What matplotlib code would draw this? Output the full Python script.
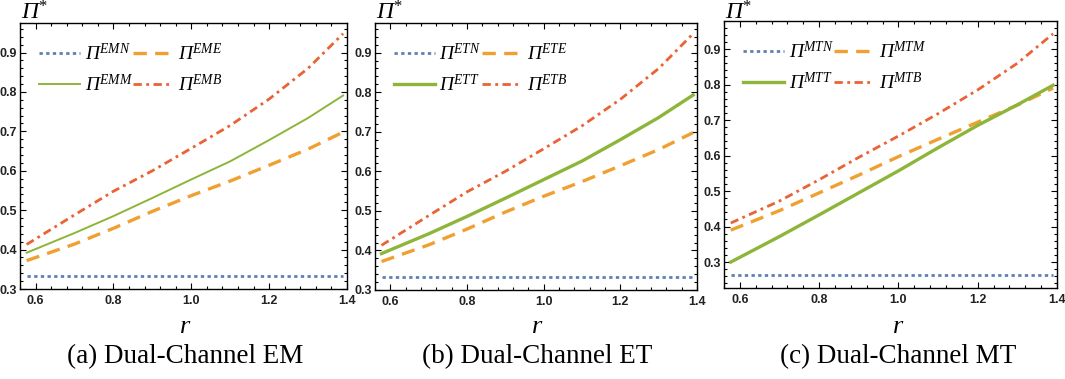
import matplotlib
matplotlib.use("Agg")
import matplotlib.pyplot as plt
from matplotlib.ticker import MultipleLocator, FormatStrFormatter

plt.rcParams['mathtext.fontset'] = 'custom'
plt.rcParams['mathtext.rm'] = 'Liberation Serif'
plt.rcParams['mathtext.it'] = 'Liberation Serif:italic'
plt.rcParams['mathtext.bf'] = 'Liberation Serif:bold'

# ---- data ----
r = [0.577, 0.7, 0.8, 0.9, 1.0, 1.1, 1.2, 1.3, 1.39]

em_n = [0.333] * 9
em_e = [0.372, 0.414, 0.454, 0.497, 0.537, 0.574, 0.614, 0.655, 0.698]
em_m = [0.392, 0.442, 0.485, 0.531, 0.578, 0.624, 0.678, 0.734, 0.791]
em_b = [0.413, 0.488, 0.548, 0.600, 0.657, 0.715, 0.782, 0.860, 0.948]

et_n = [0.333] * 9
et_e = [0.372, 0.414, 0.454, 0.497, 0.537, 0.574, 0.614, 0.655, 0.698]
et_t = [0.392, 0.442, 0.486, 0.532, 0.579, 0.626, 0.680, 0.736, 0.793]
et_b = [0.413, 0.488, 0.548, 0.600, 0.657, 0.715, 0.782, 0.860, 0.948]

mt_n = [0.263] * 9
mt_m = [0.390, 0.445, 0.495, 0.545, 0.597, 0.646, 0.694, 0.742, 0.790]
mt_t = [0.300, 0.372, 0.433, 0.495, 0.557, 0.622, 0.685, 0.743, 0.798]
mt_b = [0.410, 0.472, 0.532, 0.595, 0.655, 0.718, 0.785, 0.860, 0.943]

panels = [
    dict(series=[em_n, em_e, em_m, em_b], labels=['EMN', 'EME', 'EMM', 'EMB'],
         caption='(a) Dual-Channel EM', ylim=(0.3, 0.975), green_lw=1.4),
    dict(series=[et_n, et_e, et_t, et_b], labels=['ETN', 'ETE', 'ETT', 'ETB'],
         caption='(b) Dual-Channel ET', ylim=(0.3, 0.975), green_lw=2.4),
    dict(series=[mt_n, mt_m, mt_t, mt_b], labels=['MTN', 'MTM', 'MTT', 'MTB'],
         caption='(c) Dual-Channel MT', ylim=(0.227, 0.979), green_lw=2.4),
]

# ---- layout ----
W, H = 1065, 379
fig = plt.figure(figsize=(W / 100, H / 100), dpi=100)
boxes = [(20, 347, 23, 289), (375, 697, 23, 290), (724, 1057, 21, 288)]
caption_x = [185, 537, 898]

blue = '#5E81B5'
orange = '#F0A030'
green = '#8DB53A'
red = '#EB6235'

for p, (l, rr, t, b), cx in zip(panels, boxes, caption_x):
    ax = fig.add_axes([l / W, 1 - b / H, (rr - l) / W, (b - t) / H])
    n, e, m, bb = p['series']
    ln_n, = ax.plot(r, n, color=blue, lw=2.0, ls=(0, (1.2, 1.2)))
    ln_e, = ax.plot(r, e, color=orange, lw=2.4, ls=(0, (4.0, 2.5)))
    ln_m, = ax.plot(r, m, color=green, lw=p['green_lw'], ls='-')
    ln_b, = ax.plot(r, bb, color=red, lw=2.0, ls=(0, (3.0, 1.6, 1.0, 1.6)))
    labs = ['Π$^{%s}$' % s for s in p['labels']]
    leg = ax.legend([ln_n, ln_m, ln_e, ln_b], [labs[0], labs[2], labs[1], labs[3]],
                    ncol=2, loc='upper left', bbox_to_anchor=(0.01, 0.985),
                    frameon=False, handlelength=2.1, handletextpad=0.25,
                    columnspacing=0.0, labelspacing=0.5, borderpad=0.3,
                    prop=dict(family='Liberation Serif', style='italic', size=14))
    ax.set_xlim(0.56, 1.4)
    ax.set_ylim(*p['ylim'])
    ax.xaxis.set_major_locator(MultipleLocator(0.2))
    ax.xaxis.set_minor_locator(MultipleLocator(0.04))
    ax.yaxis.set_major_locator(MultipleLocator(0.1))
    ax.yaxis.set_minor_locator(MultipleLocator(0.02))
    ax.xaxis.set_major_formatter(FormatStrFormatter('%.1f'))
    ax.yaxis.set_major_formatter(FormatStrFormatter('%.1f'))
    ax.tick_params(which='both', direction='in', top=True, right=True,
                   labelsize=9, labelcolor='#222222', width=0.8)
    ax.tick_params(which='major', length=4, pad=2)
    ax.tick_params(which='minor', length=2)
    for lab in ax.get_xticklabels() + ax.get_yticklabels():
        lab.set_family('Liberation Sans')
        lab.set_weight('bold')
    ax.tick_params(axis='x', which='major', pad=4)
    for s in ax.spines.values():
        s.set_linewidth(1.0)
    # y label Π*
    fig.text((l + 14) / W, 1 - 13 / H, 'Π$^{*}$', family='Liberation Serif',
             style='italic', fontsize=17, ha='center', va='center')
    # x label r
    fig.text(cx / W, 1 - 327 / H, 'r', family='Liberation Serif', style='italic',
             fontsize=19, ha='center', va='center')
    # caption
    fig.text(cx / W, 1 - 357 / H, p['caption'], family='Liberation Serif',
             fontsize=19.5, ha='center', va='center')

fig.savefig('out.png', dpi=100)
